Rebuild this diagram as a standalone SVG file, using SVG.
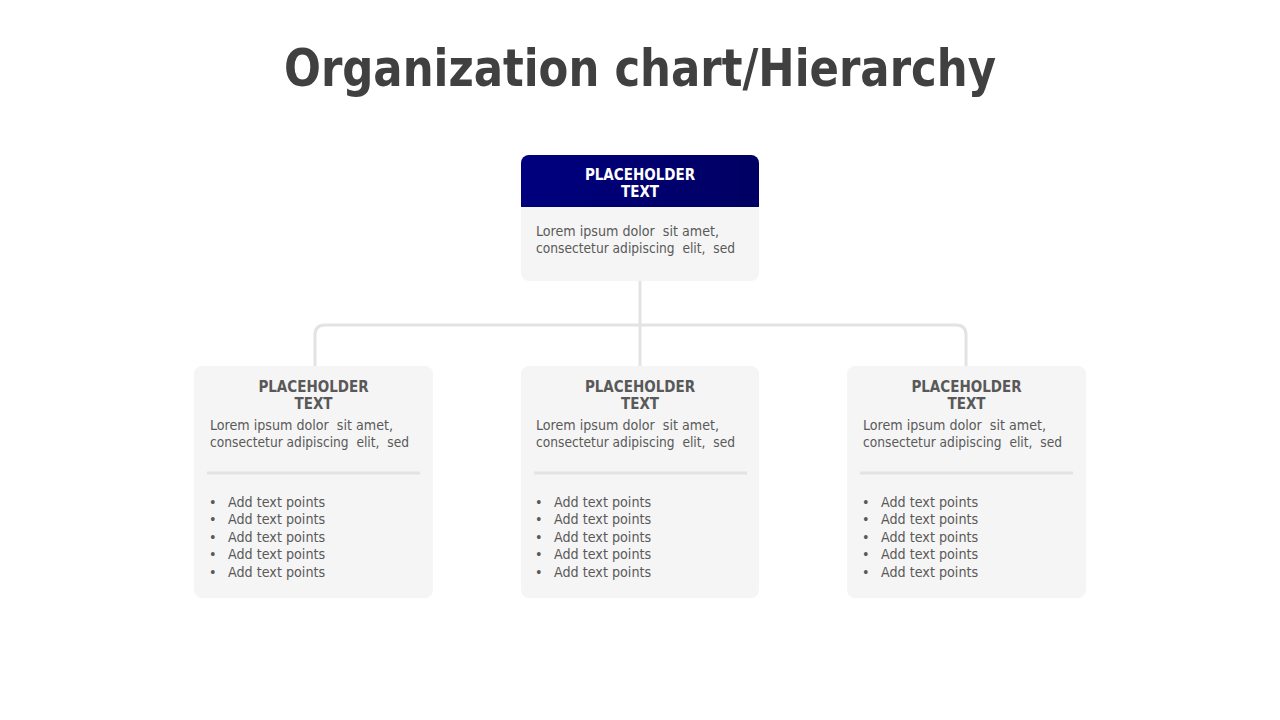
<svg xmlns="http://www.w3.org/2000/svg" width="1280" height="720" viewBox="0 0 1280 720">
<defs>
<linearGradient id="hdr" x1="0" y1="0" x2="1" y2="0">
<stop offset="0" stop-color="#00007f"/>
<stop offset="1" stop-color="#000062"/>
</linearGradient>
<clipPath id="topclip"><rect x="521" y="155" width="238" height="126" rx="8"/></clipPath>
</defs>
<style>
text{font-family:"DejaVu Sans Condensed","DejaVu Sans",sans-serif;font-stretch:condensed;white-space:pre}
.title{font-size:51px;font-weight:bold;fill:#404040}
.hw{font-size:15px;font-weight:bold;fill:#ffffff}
.hg{font-size:15px;font-weight:bold;fill:#595959}
.body{font-size:14.5px;fill:#595959}
.pt{font-size:14.2px;fill:#595959}
.card{fill:#f5f5f5}
.conn{fill:none;stroke:#e3e3e3;stroke-width:3}
.div{stroke:#e3e3e3;stroke-width:3}
</style>
<rect width="1280" height="720" fill="#ffffff"/>
<text class="title" x="640" y="86" text-anchor="middle" textLength="712" lengthAdjust="spacingAndGlyphs">Organization chart/Hierarchy</text>
<g id="connectors">
<path class="conn" d="M640 281 V366"/>
<path class="conn" d="M315 366 V335 Q315 325 325 325 H956 Q966 325 966 335 V366"/>
</g>
<g id="node-top">
<rect class="card" x="521" y="155" width="238" height="126" rx="8"/>
<rect x="521" y="155" width="238" height="52" fill="url(#hdr)" clip-path="url(#topclip)"/>
<text class="hw" x="640" y="180" text-anchor="middle">PLACEHOLDER</text>
<text class="hw" x="640" y="197" text-anchor="middle">TEXT</text>
<text class="body" x="536" y="236" textLength="183" lengthAdjust="spacingAndGlyphs">Lorem ipsum dolor  sit amet,</text>
<text class="body" x="536" y="253" textLength="199" lengthAdjust="spacingAndGlyphs">consectetur adipiscing  elit,  sed</text>
</g>
<g id="node-left">
<rect class="card" x="194" y="366" width="239" height="232" rx="8"/>
<text class="hg" x="313.5" y="392" text-anchor="middle">PLACEHOLDER</text>
<text class="hg" x="313.5" y="409" text-anchor="middle">TEXT</text>
<text class="body" x="210" y="430" textLength="183" lengthAdjust="spacingAndGlyphs">Lorem ipsum dolor  sit amet,</text>
<text class="body" x="210" y="447" textLength="199" lengthAdjust="spacingAndGlyphs">consectetur adipiscing  elit,  sed</text>
<line class="div" x1="207" y1="473" x2="420" y2="473"/>
<text class="pt" x="209" y="507">•</text><text class="pt" x="228" y="507">Add text points</text>
<text class="pt" x="209" y="524">•</text><text class="pt" x="228" y="524">Add text points</text>
<text class="pt" x="209" y="542">•</text><text class="pt" x="228" y="542">Add text points</text>
<text class="pt" x="209" y="559">•</text><text class="pt" x="228" y="559">Add text points</text>
<text class="pt" x="209" y="577">•</text><text class="pt" x="228" y="577">Add text points</text>
</g>
<g id="node-mid">
<rect class="card" x="521" y="366" width="238" height="232" rx="8"/>
<text class="hg" x="640" y="392" text-anchor="middle">PLACEHOLDER</text>
<text class="hg" x="640" y="409" text-anchor="middle">TEXT</text>
<text class="body" x="536" y="430" textLength="183" lengthAdjust="spacingAndGlyphs">Lorem ipsum dolor  sit amet,</text>
<text class="body" x="536" y="447" textLength="199" lengthAdjust="spacingAndGlyphs">consectetur adipiscing  elit,  sed</text>
<line class="div" x1="534" y1="473" x2="747" y2="473"/>
<text class="pt" x="535" y="507">•</text><text class="pt" x="554" y="507">Add text points</text>
<text class="pt" x="535" y="524">•</text><text class="pt" x="554" y="524">Add text points</text>
<text class="pt" x="535" y="542">•</text><text class="pt" x="554" y="542">Add text points</text>
<text class="pt" x="535" y="559">•</text><text class="pt" x="554" y="559">Add text points</text>
<text class="pt" x="535" y="577">•</text><text class="pt" x="554" y="577">Add text points</text>
</g>
<g id="node-right">
<rect class="card" x="847" y="366" width="239" height="232" rx="8"/>
<text class="hg" x="966.5" y="392" text-anchor="middle">PLACEHOLDER</text>
<text class="hg" x="966.5" y="409" text-anchor="middle">TEXT</text>
<text class="body" x="863" y="430" textLength="183" lengthAdjust="spacingAndGlyphs">Lorem ipsum dolor  sit amet,</text>
<text class="body" x="863" y="447" textLength="199" lengthAdjust="spacingAndGlyphs">consectetur adipiscing  elit,  sed</text>
<line class="div" x1="860" y1="473" x2="1073" y2="473"/>
<text class="pt" x="862" y="507">•</text><text class="pt" x="881" y="507">Add text points</text>
<text class="pt" x="862" y="524">•</text><text class="pt" x="881" y="524">Add text points</text>
<text class="pt" x="862" y="542">•</text><text class="pt" x="881" y="542">Add text points</text>
<text class="pt" x="862" y="559">•</text><text class="pt" x="881" y="559">Add text points</text>
<text class="pt" x="862" y="577">•</text><text class="pt" x="881" y="577">Add text points</text>
</g>
</svg>
